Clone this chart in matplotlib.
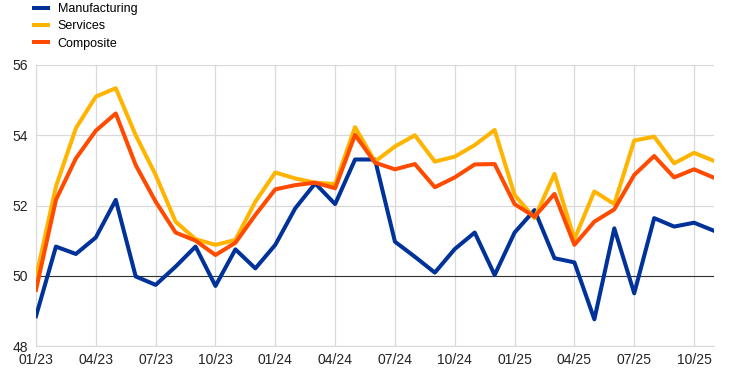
import matplotlib
matplotlib.use("Agg")
import matplotlib.pyplot as plt
import numpy as np

plt.rcParams['font.family'] = ['Liberation Sans', 'DejaVu Sans']

months = np.arange(35)  # 01/23 .. 11/25
tick_labels = ["01/23", "04/23", "07/23", "10/23", "01/24", "04/24", "07/24",
               "10/24", "01/25", "04/25", "07/25", "10/25"]

manufacturing = [48.85, 50.83, 50.62, 51.09, 52.16, 49.98, 49.74, 50.26, 50.83, 49.71,
                 50.75, 50.21, 50.88, 51.92, 52.63, 52.04, 53.31, 53.31, 50.97, 50.54,
                 50.09, 50.76, 51.23, 50.02, 51.23, 51.87, 50.50, 50.38, 48.76, 51.35,
                 49.50, 51.64, 51.40, 51.51, 51.28]
services = [49.95, 52.54, 54.20, 55.10, 55.34, 54.00, 52.87, 51.54, 51.04, 50.88,
            51.02, 52.11, 52.94, 52.77, 52.65, 52.61, 54.23, 53.25, 53.68, 54.00,
            53.25, 53.39, 53.72, 54.15, 52.30, 51.64, 52.90, 51.04, 52.40, 52.04,
            53.85, 53.96, 53.20, 53.50, 53.27]
composite = [49.60, 52.16, 53.34, 54.13, 54.62, 53.15, 52.11, 51.23, 51.00, 50.59,
             50.94, 51.73, 52.46, 52.58, 52.65, 52.49, 54.01, 53.22, 53.03, 53.18,
             52.52, 52.80, 53.17, 53.18, 52.04, 51.68, 52.33, 50.88, 51.54, 51.89,
             52.87, 53.41, 52.80, 53.03, 52.79]

fig = plt.figure(figsize=(7.42, 3.71), dpi=100)
ax = fig.add_axes([36/742, 25/371, (714-36)/742, (346-65)/371])

lw = 2.9
l1, = ax.plot(months, manufacturing, color="#003299", lw=lw, label="Manufacturing", zorder=3)
l2, = ax.plot(months, services, color="#FFB400", lw=lw, label="Services", zorder=3)
l3, = ax.plot(months, composite, color="#FF4B00", lw=lw, label="Composite", zorder=4)

ax.axhline(50, color="#333333", lw=0.8, zorder=2)

ax.set_xlim(0, 34)
ax.set_ylim(48, 56)
ax.set_yticks([48, 50, 52, 54, 56])
ax.set_xticks(np.arange(0, 35, 3))
ax.set_xticklabels(tick_labels)
ax.grid(True, color="#d9d9d9", lw=0.9, zorder=0)
ax.set_axisbelow(True)
for s in ["top", "right"]:
    ax.spines[s].set_visible(False)
ax.spines["left"].set_color("#d9d9d9")
ax.spines["bottom"].set_color("#d9d9d9")
ax.tick_params(axis="y", length=0, labelsize=10, colors="#222222", pad=6)
ax.tick_params(axis="x", length=0, labelsize=10, colors="#222222", pad=5)

fig.legend(handles=[l1, l2, l3], loc="upper left", bbox_to_anchor=(34/742, 1 - 3/371),
           frameon=False, fontsize=9, handlelength=1.1, handletextpad=0.8,
           labelspacing=0.42, borderpad=0.0, borderaxespad=0.0)

fig.savefig("out.png", dpi=100)
